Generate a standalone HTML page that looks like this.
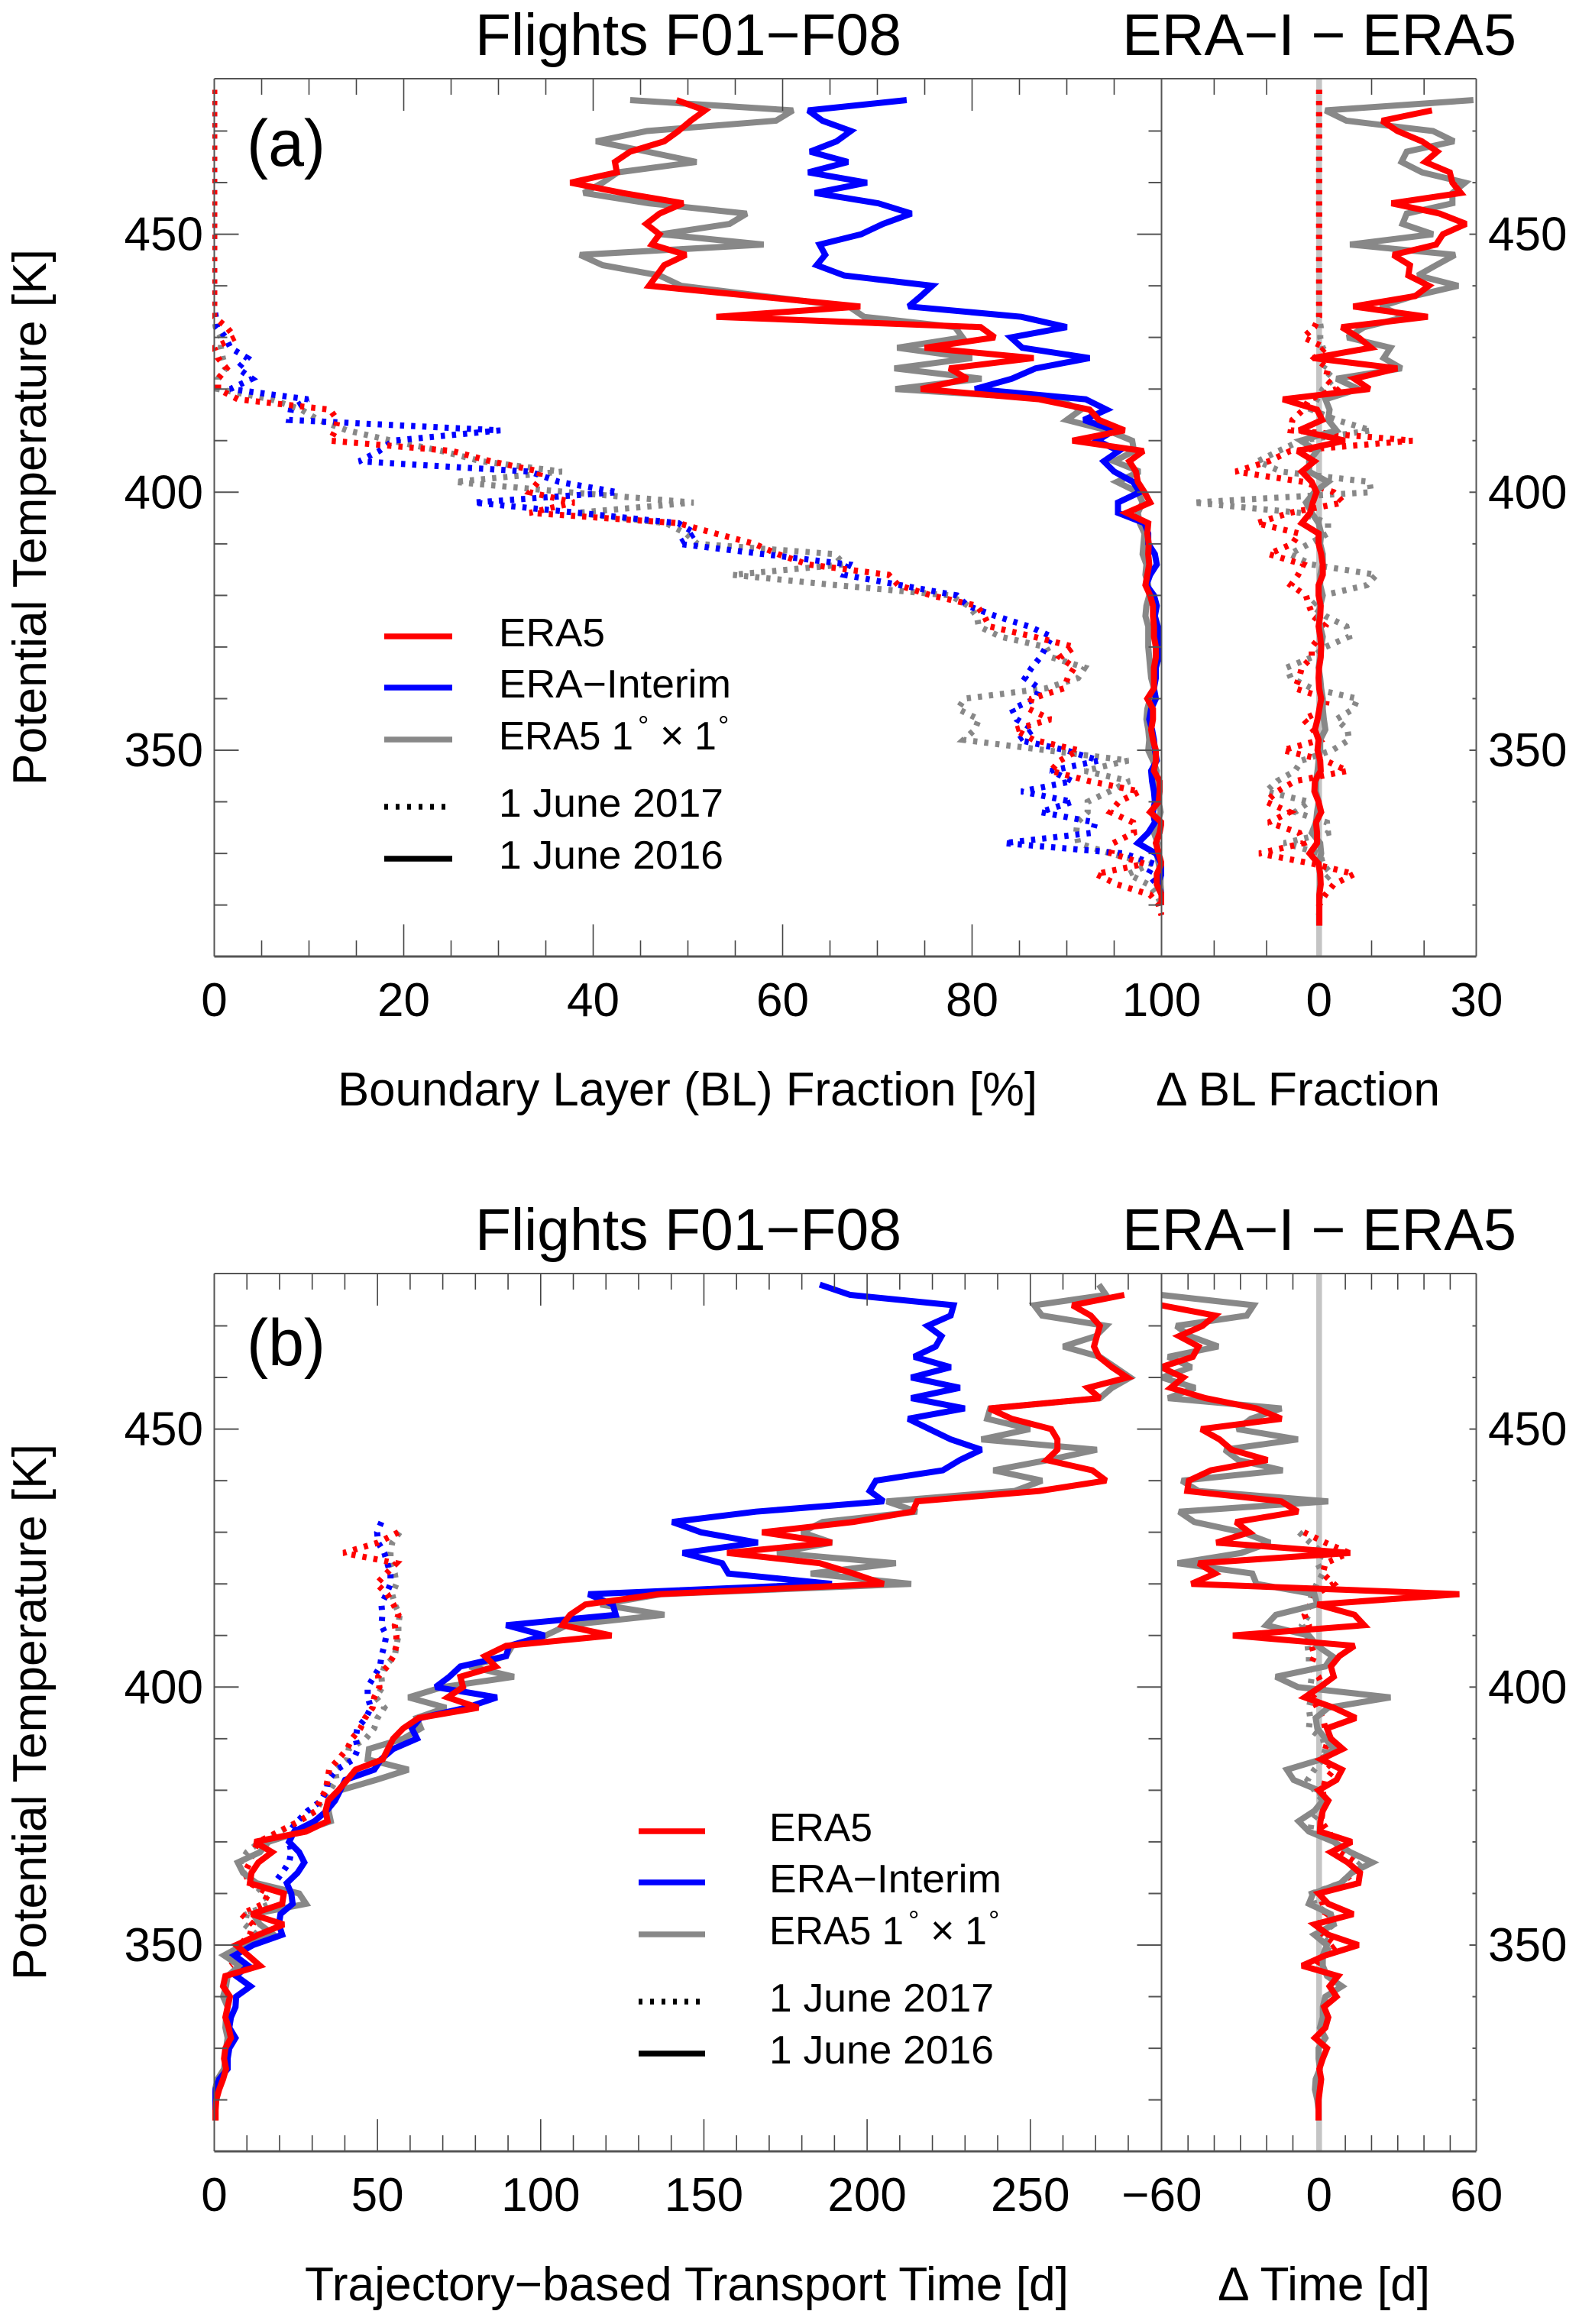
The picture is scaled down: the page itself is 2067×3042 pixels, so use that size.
<!DOCTYPE html>
<html>
<head>
<meta charset="utf-8">
<title>Boundary layer fraction and transport time</title>
<style>
html,body{margin:0;padding:0;background:#fff;}
svg{display:block;}
text{font-family:"Liberation Sans",Arial,sans-serif;fill:#000;}
</style>
</head>
<body>
<svg id="figure" xmlns="http://www.w3.org/2000/svg" width="2067" height="3042" viewBox="0 0 2067 3042">
<rect x="0" y="0" width="2067" height="3042" fill="#fff"/>
<defs>
<clipPath id="clipAL"><rect x="278" y="100" width="1246" height="1155"/></clipPath>
<clipPath id="clipAR"><rect x="1520.5" y="100" width="412.5" height="1155"/></clipPath>
<clipPath id="clipBL"><rect x="278" y="1664" width="1246" height="1155"/></clipPath>
<clipPath id="clipBR"><rect x="1520.5" y="1664" width="412.5" height="1155"/></clipPath>
</defs>
<g id="marks"></g>
<g id="axes"></g>

<text x="622" y="72" font-size="77" textLength="558" lengthAdjust="spacingAndGlyphs">Flights F01−F08</text>
<text x="1469" y="72" font-size="77" textLength="516" lengthAdjust="spacingAndGlyphs">ERA−I − ERA5</text>
<text x="323" y="217" font-size="86" textLength="103" lengthAdjust="spacingAndGlyphs">(a)</text>
<text transform="translate(60,1028) rotate(-90)" font-size="62" textLength="702" lengthAdjust="spacingAndGlyphs">Potential Temperature [K]</text>
<text x="442" y="1447" font-size="62" textLength="916" lengthAdjust="spacingAndGlyphs">Boundary Layer (BL) Fraction [%]</text>
<text x="1513" y="1447" font-size="62" textLength="372" lengthAdjust="spacingAndGlyphs">Δ BL Fraction</text>

<text x="622" y="1636" font-size="77" textLength="558" lengthAdjust="spacingAndGlyphs">Flights F01−F08</text>
<text x="1469" y="1636" font-size="77" textLength="516" lengthAdjust="spacingAndGlyphs">ERA−I − ERA5</text>
<text x="323" y="1787" font-size="86" textLength="103" lengthAdjust="spacingAndGlyphs">(b)</text>
<text transform="translate(60,2592) rotate(-90)" font-size="62" textLength="702" lengthAdjust="spacingAndGlyphs">Potential Temperature [K]</text>
<text x="399" y="3011" font-size="62" textLength="1000" lengthAdjust="spacingAndGlyphs">Trajectory−based Transport Time [d]</text>
<text x="1594" y="3011" font-size="62" textLength="278" lengthAdjust="spacingAndGlyphs">Δ Time [d]</text>

<g>
<line x1="503" x2="592" y1="833" y2="833" stroke="#f00" stroke-width="7.5"/>
<line x1="503" x2="592" y1="900" y2="900" stroke="#00f" stroke-width="7.5"/>
<line x1="503" x2="592" y1="968" y2="968" stroke="#888" stroke-width="7.5"/>
<line x1="503" x2="583" y1="1056" y2="1056" stroke="#000" stroke-width="7.5" stroke-dasharray="5 10"/>
<line x1="503" x2="592" y1="1124" y2="1124" stroke="#000" stroke-width="7.5"/>
<text x="653" y="846" font-size="52" textLength="139" lengthAdjust="spacingAndGlyphs">ERA5</text>
<text x="653" y="913" font-size="52" textLength="304" lengthAdjust="spacingAndGlyphs">ERA−Interim</text>
<text x="653" y="981" font-size="52" textLength="176" lengthAdjust="spacingAndGlyphs">ERA5 1</text>
<text x="835" y="962" font-size="36">°</text>
<text x="864" y="981" font-size="54">×</text>
<text x="909" y="981" font-size="52">1</text>
<text x="940" y="962" font-size="36">°</text>
<text x="653" y="1069" font-size="52" textLength="294" lengthAdjust="spacingAndGlyphs">1 June 2017</text>
<text x="653" y="1137" font-size="52" textLength="294" lengthAdjust="spacingAndGlyphs">1 June 2016</text>
</g>

<g>
<line x1="836" x2="923" y1="2397" y2="2397" stroke="#f00" stroke-width="7.5"/>
<line x1="836" x2="923" y1="2464" y2="2464" stroke="#00f" stroke-width="7.5"/>
<line x1="836" x2="923" y1="2532" y2="2532" stroke="#888" stroke-width="7.5"/>
<line x1="836" x2="916" y1="2620" y2="2620" stroke="#000" stroke-width="7.5" stroke-dasharray="5 10"/>
<line x1="836" x2="923" y1="2688" y2="2688" stroke="#000" stroke-width="7.5"/>
<text x="1007" y="2410" font-size="52" textLength="135" lengthAdjust="spacingAndGlyphs">ERA5</text>
<text x="1007" y="2477" font-size="52" textLength="304" lengthAdjust="spacingAndGlyphs">ERA−Interim</text>
<text x="1007" y="2545" font-size="52" textLength="176" lengthAdjust="spacingAndGlyphs">ERA5 1</text>
<text x="1189" y="2526" font-size="36">°</text>
<text x="1218" y="2545" font-size="54">×</text>
<text x="1263" y="2545" font-size="52">1</text>
<text x="1294" y="2526" font-size="36">°</text>
<text x="1007" y="2633" font-size="52" textLength="294" lengthAdjust="spacingAndGlyphs">1 June 2017</text>
<text x="1007" y="2701" font-size="52" textLength="294" lengthAdjust="spacingAndGlyphs">1 June 2016</text>
</g>
</svg>

<script>
// Potential temperature levels [K]
const levels = [478,476,474,472,470,468,466,464,462,460,458,456,454,452,450,448,446,444,442,440,438,436,434,432,430,428,426,424,422,420,418,416,414,412,410,408,406,404,402,400,398,396,394,392,390,388,386,384,382,380,378,376,374,372,370,368,366,364,362,360,358,356,354,352,350,348,346,344,342,340,338,336,334,332,330,328,326,324,322,320,318,316];

// Panel (a) BL fraction, first value belongs to the stated top level
const aLeftRedSolidTop = 476;
const aLeftRedSolid = [48.8,51.8,50.3,49,47.5,43.9,42.3,42.5,37.6,43.1,49.5,47,45.6,47,46.2,49.8,47.5,46.7,45.9,57,68.2,53,80.9,82.4,75,86.5,77.6,79.5,74.6,87.1,92.4,93.4,96.1,90.6,98.1,96.6,97.3,97.5,98.2,98.8,96.3,98.6,98.5,98.65,98.6,98.7,98.5,98.3,98.8,99.1,99.1,99.2,99.2,99.4,99.4,99.2,99.2,99.2,98.5,99.1,99.1,98.9,99.1,99.4,99.4,99.2,99.8,99.8,99.7,98.8,100,99.8,99.4,99.7,100,99.5,99.5,100,100];
const aLeftBlueSolidTop = 476;
const aLeftBlueSolid = [73.1,62.7,64.2,67.2,65.7,62.9,66.9,62.7,68.9,63.4,70.1,73.6,70.6,68.3,63.9,64.5,63.6,66.5,75.8,74.6,73.3,85.2,90,84.1,85.3,92.4,86.7,84.2,80.3,92,94.2,91.8,95,93.2,95.5,93.9,95,97,97.7,95.4,95.4,98.2,98.6,98.6,99.3,99.5,98.8,98.4,99.2,99.5,99.3,99.6,99.7,99.7,99.7,99.4,99.4,99.2,99.4,98.9,98.7,99,99.2,99.3,99.5,98.9,99,99.2,99.3,99.1,99.3,98.6,97.5,99.4,100,100,99.6,100,100];
const aLeftGreySolidTop = 476;
const aLeftGreySolid = [43.9,61.1,59.3,45.7,40.3,45.7,50.9,42.6,41,39,45.9,56.2,54.4,47.2,58,38.6,41,47,49.3,58,67,68.6,78.2,79,72.1,80,71.8,81,71.9,89,91.5,90,94.3,96.9,97.1,95,97.7,95.3,97.5,98,97.5,97.7,98.2,98.1,98,98.4,98.3,98.6,98.7,98.4,98.3,98.6,98.6,98.6,98.7,98.8,98.9,99.2,98.8,98.5,98.4,98.6,98.7,98.6,99.1,99.5,99.4,99.3,99.7,99.9,99.6,99.2,99.6,99.5,99.7,99.9,99.9,100,100];
const aLeftRedDotTop = 478;
const aLeftRedDot = [0,0,0,0,0,0,0,0,0,0,0,0,0,0,0,0,0,0,0,0,0,0,0,1.3,2.2,0,.4,1.3,.4,.4,2.5,12.2,13,12.8,12.2,25.1,29.2,34.4,34.2,33.3,38,33.3,49,52.9,57,59.5,62.7,71.2,72.2,75.7,80.5,81.3,81.8,86.5,90.8,89.3,90.8,90.1,89.7,86.3,86,88.3,84.5,86.5,91.2,89.3,88.3,92.4,97.7,95.5,94.6,97,97.1,94.9,94.7,98.2,93.1,95.3,98.8,99.7,100];
const aLeftBlueDotTop = 478;
const aLeftBlueDot = [0,0,0,0,0,0,0,0,0,0,0,0,0,0,0,0,0,0,0,0,0,0,.15,.3,1.2,1.7,3.5,2.5,4,1.7,9.9,8.1,7.9,30.2,18.9,17.4,15.3,33.3,36.4,42.6,27.4,38.5,49,50.8,49,58,67,66.5,72.4,78.4,79.5,82.5,86,88.4,87.8,87.2,86.3,85.6,87.1,86.7,84.2,84.7,86.5,84.9,89.9,93.4,88.3,90.6,85.2,90.6,87.2,93,92.7,83.4,96,99.2,98.6,99.5,100,100];
const aLeftGreyDotTop = 478;
const aLeftGreyDot = [0,0,0,0,0,0,0,0,0,0,0,0,0,0,0,0,0,0,0,0,0,0,0,.15,.7,.7,.9,1.2,.4,.4,6,9.2,11,14,18.7,24,28.2,36.7,25.4,37.4,50.6,38.2,47.7,49.8,51,65.5,66.5,54.7,65.6,77.7,79.6,80.5,80.7,83,87.8,88.4,91.9,91.2,87.8,79.2,78.5,80.7,80.3,79.1,87.8,96.5,91.9,96.6,94.5,92.2,92.2,91.1,91,91.2,94.6,98.9,96.5,98.6,99.5,100];

// Panel (a) delta BL fraction
const aRightRedSolidTop = 474;
const aRightRedSolid = [21.5,12,14.9,19.6,22.5,20.2,24.9,25.4,27,13.8,23,28,23.6,22.3,14.1,17.3,17,20.9,18.3,6.5,20.7,4.3,7.5,9.9,-1.2,14.9,6.7,9.6,-6.9,-.4,.6,-3.8,4.9,-4.1,-.9,-3.3,-1.4,-.5,-1.2,-1.7,-3.3,-.1,-.1,.4,.7,.7,-.1,-.1,.3,.2,-.1,.2,.4,.3,0,-.1,0,.4,.05,-.3,-.8,-.1,-.3,.2,.3,-.8,-.9,-.1,.4,-.6,-.4,-.4,-1.8,-.1,.2,.3,.05,.05,.05,.05];
const aRightGreySolidTop = 476;
const aRightGreySolid = [29.4,1.2,5.2,21.7,25.7,16.7,15.7,19.6,27.8,25.4,25.4,16.7,15.9,21.7,5.9,25.9,22.3,18.8,26.5,18,11.7,16.5,8.6,5.4,13.6,12.3,15.7,3.3,7.5,1.2,2,1.7,3.3,-3.5,-.4,-1.9,-1.9,1.7,-.9,-2.5,-1.4,-.1,.4,.2,.7,.7,.2,.2,.7,.2,-.1,.2,.7,.4,.2,-.1,.2,.4,.7,.7,.9,1.2,.2,.2,-.1,-.3,-.6,-.6,-.1,-.4,-.6,-1.4,.2,.4,-.1,.2,.2,.05,.05,0,0];
const aRightRedDotTop = 478;
const aRightRedDot = [0,0,0,0,0,0,0,0,0,0,0,0,0,0,0,0,0,0,0,0,0,0,0,-.9,-3,1.2,-.9,1.7,1.2,3.3,-1.9,-3,-5.1,-5.4,17.8,-5.5,-9.6,-15.9,-3,2.8,4.6,-5.6,-11.9,-3.8,-5.1,-9.6,-3,-4,-5.4,-2.5,-1.9,-1.2,1.2,.2,-1.4,-1.4,-3.3,-3.8,-4.6,1.5,1.2,-3,-1.2,.2,-6.9,1.2,5.4,-4.6,-8,-10.1,-5.6,-9.6,-3.8,-3,-11.4,-1.2,6.7,2.8,1.2,0,0];
const aRightGreyDotTop = 478;
const aRightGreyDot = [0,0,0,0,0,0,0,0,0,0,0,0,0,0,0,0,0,0,0,0,0,0,0,.3,.2,.7,2,.7,2.8,.7,-.4,-1.4,3.3,9.9,-3.5,-7.7,-11.7,-7.2,9.6,9.9,-24,-3.5,1.7,1.7,-1.9,-5.6,-1.4,10.9,9.1,.7,-1.4,1.2,5.2,5.7,1.2,-1.4,-6.2,-5.4,-1.4,7.3,6.5,3.3,5.4,5.7,2.5,-3.3,-4.6,-8,-10.1,-1.9,-4.6,1.5,1.7,-6.7,.2,.7,2.3,.2,.2,0];

// Panel (b) transport time [d]
const bLeftRedSolidTop = 476;
const bLeftRedSolid = [278.8,262.9,268.5,271.3,270.4,269.5,271,275,279.7,267.6,271.3,237.4,244.3,256.4,258.3,258.3,255,269,273.2,252.7,215.3,213.9,195.8,167.8,189.2,157.1,185.5,195.8,205.1,136,113.7,109,106.6,121.7,89.4,82.9,86.2,75.4,76.2,71.5,80.9,62.6,57.9,54.8,53.2,51.6,43.3,40.7,38,34.9,34.1,34.7,28.1,12.4,17.7,13.5,11.4,10.9,21.3,20.8,11.4,21.3,13.5,6.7,10.4,14,3.4,2.7,4.8,4.1,3.4,4.4,5.1,3.4,3,3.6,2.7,1.5,.6,.4,.4];
const bLeftBlueSolidTop = 478;
const bLeftBlueSolid = [185.5,194.8,226.5,225.6,218.5,222.8,221,214.4,225.6,213.5,228.4,213.5,229.9,212.6,219.1,225.6,235,228.4,223.2,202.7,200.8,205.1,165.9,140.3,149.1,166.5,143.5,155.6,157.5,189.2,114.6,122.1,123,89.4,101.2,90.3,89.4,75.4,72,67.8,86.6,77.2,63.1,60.5,62.1,54.8,51.1,49,40.1,38.6,37,34.4,30.7,24.5,22.9,26,27.6,25.5,22.2,23.6,24,20.3,19.8,20.8,11.9,6.2,10.4,6.7,11.1,6.7,6.5,5.1,4.6,6.5,4.6,4.1,4.1,1.5,.4,.2,0];
const bLeftGreySolidTop = 478;
const bLeftGreySolid = [271,273.2,251.2,253.6,273.2,270,260.1,271.3,276,280.6,275,271.3,237.7,236.8,249.9,235,270.4,255.5,238.7,253.6,245.2,206,215.3,186.4,180,189.2,172.4,208.8,182.7,213.5,137,118.3,137.9,108.1,101.5,91.3,89.4,78.2,91.8,70,59.5,71,62,63.3,57.9,47.4,47,59.5,49.5,38.6,35.4,35,35.7,26.5,16.6,14,7.2,8.8,13,26,28.1,11.9,14,18.2,8.8,3,7.7,4.1,3.6,2.7,4.1,3.6,3.4,4.1,3.6,3.4,3,1,.2,.2,.2,.2];
const bLeftRedDotTop = 430;
const bLeftRedDot = [56.4,50.2,39.6,55.8,52.7,49.7,53,54.9,56.4,55.3,55.8,55.8,54.9,53,50.2,50.6,49,48.5,46.2,44.8,42.2,40.7,38,35.2,34.7,34.1,32.3,31.2,26,19.8,13.5,11.9,10.9,9.3,10.9,16.6,15,8.3,11.9,10.9,7.7,9,5];
const bLeftBlueDotTop = 432;
const bLeftBlueDot = [51.2,49.9,50.2,52.1,53,54,54,52.7,51.2,51.5,51.2,52.7,52.1,51.2,50.8,48.9,47,47,48,46.4,43.8,43.3,44,42.7,37.5,34.9,34.4,32.8,28.6,25.5,22.9,22.9,23.6,22.9,20.8,18.4];
const bLeftGreyDotTop = 430;
const bLeftGreyDot = [56.8,54.5,54,54,55.3,55.8,54.5,55.3,56.8,56.4,56.4,55.8,55.3,52.1,51.2,51.5,49.5,52.1,50,49,46.4,41.2,40.7,37,37.5,35.4,33,31,26,20,14,10,8,9,12,15,17,10,9.3,13,8,5];

// Panel (b) delta time [d]
const bRightRedSolidTop = 474;
const bRightRedSolid = [-60.3,-39.7,-44.5,-53.4,-46,-48.2,-60.3,-51.8,-56.6,-43.4,-23.9,-14.4,-45,-38,-33.4,-19.7,-41.3,-49.7,-50.3,-14.4,-8.1,-31.8,-26.6,-39.2,11.9,-46,-39.7,-48.7,53.5,-.7,13.5,17.2,-32.9,13.5,7.7,4.5,5.6,.3,-5.5,5.6,14,3,4.5,9,.8,8.7,6.6,-.2,3.5,1.4,.5,.3,12.4,4.5,10.9,15.6,15,-.2,3.5,13,-1.8,3.5,15,2.4,-6.5,7.2,4,6.6,1.9,3.5,2.4,-1.6,3,1.4,.1,.8,.3,-.2,-.2,-.2];
const bRightGreySolidTop = 476;
const bRightGreySolid = [-60.3,-25,-27.6,-54.5,-49.2,-38.5,-57.6,-48.7,-60,-47.3,-57.6,-14.4,-26,-31.3,-8.1,-36,-30.8,-13.9,-52.4,-46,3.5,-53.4,-47.6,-29.2,-18.7,-29.7,-54,-25.5,-23.9,-1.8,-.7,-16.5,-20.2,-3.9,-.7,5,2.4,-16.5,-8.1,27.2,3.5,-1.3,-.7,2.4,5.6,.8,-12.3,-9.7,-.2,1.4,-1.8,-7.8,-3.9,5.6,11.9,20.3,12.4,8.2,-2.3,-3.9,4.5,5.6,-1.8,3,1.4,1.4,3,8.7,2.4,1.4,1.4,.3,2.4,-.2,-.2,.3,-1.3,-1.6,-.7,-.2,-.2];
const bRightRedDotTop = 430;
const bRightRedDot = [-5.8,2.4,11.4,2.4,1.4,5.6,-1.3,-3.4,-5.5,-3.9,-3.9,-2.8,-1.8,-3.4,-.2,1.4,-2.8,-.7,1.4,2.4,3.5,2.4,1.4,5.6,2.4,1.4,1.9,1.4,.8,3.5,6.6,7.7,14,13,8.7,-.2,1.4,2.4,-.2,1.4,6.6,1.4,-.7];
const bRightGreyDotTop = 430;
const bRightGreyDot = [-7.6,-3.4,1.4,-.7,1.4,-.9,-2.8,-3.9,-3.9,-6.5,-4.4,-4.4,-3.9,-3.9,-2.8,-3.4,-3,-3.9,-3.4,-3.9,1.4,2.4,1.4,-1.8,-4.4,-1.8,1.4,.3,-2.8,-3.4,5.6,11.4,16,12.4,8.2,-2.8,-1.8,3.5,5.6,.3,4.5,1.4,1.4];

// Tick values and labels
const thetaMinorTicks = [320,330,340,360,370,380,390,410,420,430,440,460,470];
const thetaMajorTicks = [350,400,450];
const thetaLabels = ["350","400","450"];
const aLeftXMinor = [5,10,15,25,30,35,45,50,55,65,70,75,85,90,95];
const aLeftXMajor = [20,40,60,80];
const aLeftXLabelValues = [0,20,40,60,80,100];
const aRightXTicks = [-20,-10,0,10,20];
const aRightXLabelValues = [0,30];
const bLeftXMinor = [10,20,30,40,60,70,80,90,110,120,130,140,160,170,180,190,210,220,230,240,260,270,280];
const bLeftXMajor = [50,100,150,200,250];
const bLeftXLabelValues = [0,50,100,150,200,250];
const bRightXTicks = [-50,-40,-30,-20,-10,0,10,20,30,40,50];
const bRightXLabelValues = [-60,0,60];

// Axis functions
const xALeft = v => 280.5 + v * 12.4;
const xARight = v => 1726.8 + v * 6.87;
const xBLeft = v => 280.5 + v * 4.273;
const xBRight = v => 1726.8 + v * 3.432;
const yA = t => 982 - (t - 350) * 6.754;
const yB = t => yA(t) + 1564;

const NS = 'http://www.w3.org/2000/svg';
const marks = document.getElementById('marks');
const axes = document.getElementById('axes');

function drawSeries(name, values, top, xf, yf, color, dotted, clip) {
  const start = levels.indexOf(top);
  const pts = values.map((v, i) => xf(v).toFixed(1) + ',' + yf(levels[start + i]).toFixed(1)).join(' ');
  const el = document.createElementNS(NS, 'polyline');
  
  
  el.setAttribute('points', pts);
  el.setAttribute('fill', 'none');
  el.setAttribute('stroke', color);
  el.setAttribute('stroke-width', '8');
  el.setAttribute('stroke-linejoin', 'miter');
  el.setAttribute('stroke-miterlimit', '2.5');
  if (dotted) el.setAttribute('stroke-dasharray', '5.5 9.1');
  el.setAttribute('clip-path', 'url(#' + clip + ')');
  marks.appendChild(el);
}

function drawLine(name, x1, y1, x2, y2, color, width, parent) {
  const el = document.createElementNS(NS, 'line');
  
  
  el.setAttribute('x1', x1);
  el.setAttribute('y1', y1);
  el.setAttribute('x2', x2);
  el.setAttribute('y2', y2);
  el.setAttribute('stroke', color);
  el.setAttribute('stroke-width', width);
  parent.appendChild(el);
}

function drawText(name, x, y, str, anchor) {
  const el = document.createElementNS(NS, 'text');
  
  
  el.setAttribute('x', x);
  el.setAttribute('y', y);
  el.setAttribute('font-size', '62');
  el.setAttribute('text-anchor', anchor);
  el.textContent = str;
  axes.appendChild(el);
}

function drawFrame(panel, dy, yf, xLeftMinor, xLeftMajor, xRightTicks, xfL, xfR) {
  const top = 103 + dy, bot = 1252 + dy, L = 280.5, D = 1520.5, R = 1932.5;
  xLeftMinor.forEach(v => {
    drawLine(panel + '-x-minor-tick', xfL(v), top, xfL(v), top + 21, '#444', 1.6, axes);
    drawLine(panel + '-x-minor-tick', xfL(v), bot, xfL(v), bot - 21, '#444', 1.6, axes);
  });
  xLeftMajor.forEach(v => {
    drawLine(panel + '-x-major-tick', xfL(v), top, xfL(v), top + 42, '#444', 1.6, axes);
    drawLine(panel + '-x-major-tick', xfL(v), bot, xfL(v), bot - 42, '#444', 1.6, axes);
  });
  xRightTicks.forEach(v => {
    if (v === 0) return;
    drawLine(panel + '-delta-x-tick', xfR(v), top, xfR(v), top + 21, '#444', 1.6, axes);
    drawLine(panel + '-delta-x-tick', xfR(v), bot, xfR(v), bot - 21, '#444', 1.6, axes);
  });
  thetaMinorTicks.forEach(t => {
    drawLine(panel + '-y-minor-tick', L, yf(t), L + 17, yf(t), '#555', 2, axes);
    drawLine(panel + '-y-minor-tick', D, yf(t), D - 17, yf(t), '#555', 2, axes);
    drawLine(panel + '-y-right-minor-tick', R, yf(t), R - 5, yf(t), '#555', 2, axes);
  });
  thetaMajorTicks.forEach(t => {
    drawLine(panel + '-y-major-tick', L, yf(t), L + 32, yf(t), '#555', 2, axes);
    drawLine(panel + '-y-major-tick', D, yf(t), D - 32, yf(t), '#555', 2, axes);
    drawLine(panel + '-y-right-major-tick', R, yf(t), R - 9, yf(t), '#555', 2, axes);
  });
  drawLine(panel + '-axis-top', L, top, R, top, '#555', 2, axes);
  drawLine(panel + '-axis-bottom', L, bot, R, bot, '#555', 3, axes);
  drawLine(panel + '-axis-left', L, top, L, bot, '#555', 2, axes);
  drawLine(panel + '-panel-divider', D, top, D, bot, '#555', 2, axes);
  drawLine(panel + '-axis-right', R, top, R, bot, '#555', 2, axes);
  thetaLabels.forEach((s, i) => {
    const y = yf(thetaMajorTicks[i]) + 21;
    drawText(panel + '-y-tick-label', 266, y, s, 'end');
    drawText(panel + '-y-right-tick-label', 1948, y, s, 'start');
  });
}

// Zero reference bands
drawLine('panel-a-zero-line', 1726.8, 103, 1726.8, 1252, '#c4c4c4', 7.5, marks);
drawLine('panel-b-zero-line', 1726.8, 1667, 1726.8, 2816, '#c4c4c4', 7.5, marks);

// Panel (a) series
drawSeries('a-era5-1x1-2017', aLeftGreyDot, aLeftGreyDotTop, xALeft, yA, '#888', true, 'clipAL');
drawSeries('a-era-interim-2017', aLeftBlueDot, aLeftBlueDotTop, xALeft, yA, '#00f', true, 'clipAL');
drawSeries('a-era5-2017', aLeftRedDot, aLeftRedDotTop, xALeft, yA, '#f00', true, 'clipAL');
drawSeries('a-era5-1x1-2016', aLeftGreySolid, aLeftGreySolidTop, xALeft, yA, '#888', false, 'clipAL');
drawSeries('a-era-interim-2016', aLeftBlueSolid, aLeftBlueSolidTop, xALeft, yA, '#00f', false, 'clipAL');
drawSeries('a-era5-2016', aLeftRedSolid, aLeftRedSolidTop, xALeft, yA, '#f00', false, 'clipAL');
drawSeries('a-delta-era5-1x1-2017', aRightGreyDot, aRightGreyDotTop, xARight, yA, '#888', true, 'clipAR');
drawSeries('a-delta-era5-2017', aRightRedDot, aRightRedDotTop, xARight, yA, '#f00', true, 'clipAR');
drawSeries('a-delta-era5-1x1-2016', aRightGreySolid, aRightGreySolidTop, xARight, yA, '#888', false, 'clipAR');
drawSeries('a-delta-era5-2016', aRightRedSolid, aRightRedSolidTop, xARight, yA, '#f00', false, 'clipAR');

// Panel (b) series
drawSeries('b-era5-1x1-2017', bLeftGreyDot, bLeftGreyDotTop, xBLeft, yB, '#888', true, 'clipBL');
drawSeries('b-era-interim-2017', bLeftBlueDot, bLeftBlueDotTop, xBLeft, yB, '#00f', true, 'clipBL');
drawSeries('b-era5-2017', bLeftRedDot, bLeftRedDotTop, xBLeft, yB, '#f00', true, 'clipBL');
drawSeries('b-era5-1x1-2016', bLeftGreySolid, bLeftGreySolidTop, xBLeft, yB, '#888', false, 'clipBL');
drawSeries('b-era-interim-2016', bLeftBlueSolid, bLeftBlueSolidTop, xBLeft, yB, '#00f', false, 'clipBL');
drawSeries('b-era5-2016', bLeftRedSolid, bLeftRedSolidTop, xBLeft, yB, '#f00', false, 'clipBL');
drawSeries('b-delta-era5-1x1-2017', bRightGreyDot, bRightGreyDotTop, xBRight, yB, '#888', true, 'clipBR');
drawSeries('b-delta-era5-2017', bRightRedDot, bRightRedDotTop, xBRight, yB, '#f00', true, 'clipBR');
drawSeries('b-delta-era5-1x1-2016', bRightGreySolid, bRightGreySolidTop, xBRight, yB, '#888', false, 'clipBR');
drawSeries('b-delta-era5-2016', bRightRedSolid, bRightRedSolidTop, xBRight, yB, '#f00', false, 'clipBR');

// Axes
drawFrame('panel-a', 0, yA, aLeftXMinor, aLeftXMajor, aRightXTicks, xALeft, xARight);
drawFrame('panel-b', 1564, yB, bLeftXMinor, bLeftXMajor, bRightXTicks, xBLeft, xBRight);

aLeftXLabelValues.forEach(v => drawText('panel-a-x-tick-label', xALeft(v), 1330, String(v), 'middle'));
aRightXLabelValues.forEach(v => drawText('panel-a-delta-x-tick-label', xARight(v), 1330, String(v), 'middle'));
bLeftXLabelValues.forEach(v => drawText('panel-b-x-tick-label', xBLeft(v), 2894, String(v), 'middle'));
bRightXLabelValues.forEach(v => drawText('panel-b-delta-x-tick-label', xBRight(v), 2894, String(v).replace('-', '−'), 'middle'));
</script>
</body>
</html>
